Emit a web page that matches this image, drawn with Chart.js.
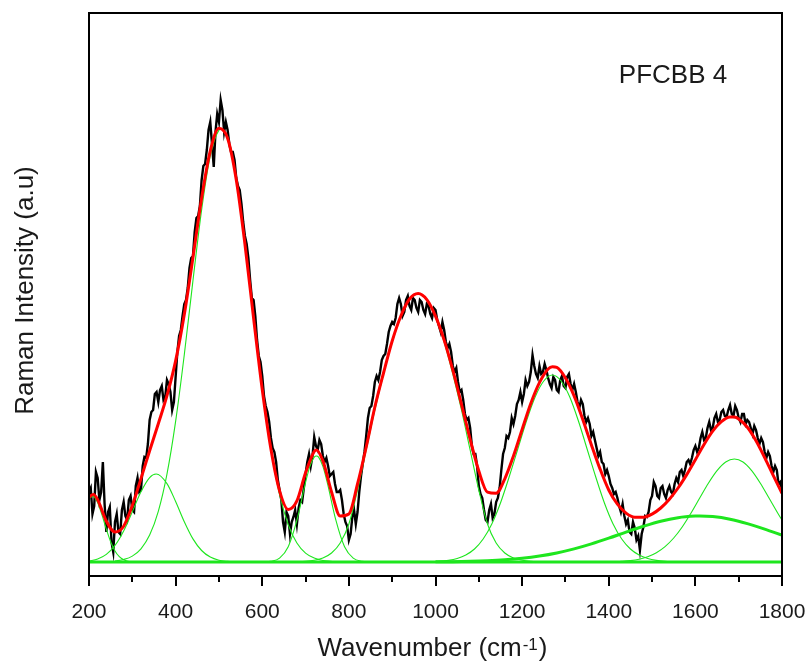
<!DOCTYPE html>
<html><head><meta charset="utf-8">
<script src="https://cdn.jsdelivr.net/npm/chart.js@4.4.0/dist/chart.umd.min.js"></script>
<style>html,body{margin:0;padding:0;background:#fff;}#wrap{width:809px;height:662px;}</style>
</head><body><div id="wrap"><canvas id="c" width="809" height="662"></canvas></div>
<script>
// ---- data (intensity in arbitrary units) ----
const majorTicks = [200,400,600,800,1000,1200,1400,1600,1800];
const minorTicks = [300,500,700,900,1100,1300,1500,1700];
const sampleTitle = "PFCBB 4";
const xTitleMain = "Wavenumber (cm";
const xTitleSup = "-1";
const xTitleEnd = ")";
const yTitle = "Raman Intensity (a.u)";

// measured spectrum (black), one value every 4 cm-1 from 200 to 1800
const measStart = 200, measStep = 4;
const measY = [
 70,74,48,56,90,84,62,70,100,58,30,50,55,20,10,40,48,30,28,52,
 60,46,42,62,66,52,50,76,84,70,72,96,105,104,118,142,150,152,168,170,
 160,172,176,162,165,182,178,170,152,160,185,210,226,232,246,258,262,274,294,304,
 306,330,344,346,356,382,396,398,412,432,440,418,395,430,448,440,462,452,430,440,
 432,418,410,410,402,384,376,372,358,340,326,318,304,282,264,262,246,222,206,200,
 186,166,156,150,140,124,114,110,100,82,72,62,40,30,50,46,28,40,45,52,
 38,54,62,60,74,88,100,108,96,106,125,116,112,122,118,106,100,104,96,86,
 88,90,78,70,70,72,62,48,40,36,22,28,45,52,38,50,70,86,98,110,
 126,144,154,156,166,180,186,182,190,202,206,208,218,230,236,240,238,244,258,264,
 258,246,250,262,266,256,252,264,262,254,250,262,260,252,248,258,256,248,244,254,
 252,242,236,230,240,232,220,214,218,210,196,190,194,180,170,172,162,148,142,144,
 134,116,108,108,96,76,68,64,52,42,40,52,58,44,48,60,64,74,92,108,
 114,126,124,130,144,138,146,158,162,170,160,168,182,176,180,190,207,196,188,184,
 196,188,190,198,192,184,178,174,185,182,172,170,182,186,176,174,185,188,178,172,
 178,170,160,154,162,158,146,140,144,138,126,130,122,114,106,110,100,98,88,92,
 86,78,74,68,70,64,56,50,58,46,38,42,30,28,40,34,22,26,12,28,
 35,46,45,50,62,66,80,76,66,64,74,76,68,64,72,76,70,68,78,84,
 80,90,92,86,92,100,102,98,104,112,116,110,114,124,130,122,124,134,140,132,
 134,144,148,140,142,150,152,146,145,152,157,148,146,156,152,144,140,148,148,138,
 142,140,134,128,136,132,124,118,124,120,110,104,110,106,96,90,96,92,78,80,
 72];

// cumulative fit (red)
const fitX = [200,210,220,240,260,280,300,320,340,360,380,400,420,440,460,480,500,520,540,560,580,600,620,640,660,680,700,720,725,740,760,780,800,820,840,860,880,900,920,940,960,980,1000,1020,1040,1060,1080,1100,1120,1140,1160,1180,1200,1220,1240,1260,1270,1280,1300,1320,1340,1360,1380,1400,1420,1440,1460,1480,1500,1520,1540,1560,1580,1600,1620,1640,1660,1680,1690,1700,1720,1740,1760,1780,1800];
const fitY = [65,67.4,62.3,40.8,30,35.8,56.5,83.4,111.3,138.3,166.3,201.1,247.5,304.5,363.7,411.1,433.7,423.8,382.3,318,243.9,172.5,113,71.2,52.6,61.1,89.2,110.5,112,101.1,70,46,48,78,115,155,189,221,246,263,268.5,262.4,245.9,221.9,191.8,157.7,122.7,91,69.8,68.7,83.2,106,132.5,158.5,179.3,193,195.2,194.6,184,166.1,142.5,117.1,92.9,72,57.8,48.9,44.8,44.8,47.9,54,62.8,74,87.4,102.3,117.5,130.8,140.3,145,144.9,143,134.7,121.2,104.4,86.3,68.7];

// fitted peaks (green)
const p1X = [200,210,220,230,240,250,260,270,280,290,300,320];
const p1Y = [64.0,65.6,59.3,47.1,32.9,20.3,11.0,5.3,2.2,0.8,0.3,0];
const p2X = [200,220,240,260,280,300,320,340,355,380,400,420,440,460,480,500,520,540];
const p2Y = [1.0,3.0,7.6,16.6,31.1,50.3,70.2,84.4,88,78.4,60.5,40.3,23.1,11.5,4.9,1.8,0.6,0];
const p3X = [260,280,300,320,340,360,380,400,420,440,460,480,500,505,510,520,540,560,580,600,620,640,660,680,700,720,740,760];
const p3Y = [0.9,2.5,5.9,13.2,26.9,50.7,87.9,140.6,207.2,281.4,352.2,406.2,431.9,433,431.9,423.2,382.1,318.0,243.9,172.4,112.3,67.4,37.3,19.0,8.9,3.9,1.5,0.6];
const p4X = [600,620,640,660,680,700,710,720,725,730,740,750,770,790,810,830,850];
const p4Y = [0.1,0.7,3.8,15.2,41.8,79.6,95.6,104.8,106,104.8,95.6,79.6,41.8,15.2,3.8,0.7,0.1];
const p5X = [640,660,680,700,720,740,760,780,800,820,840,860,880,900,920,940,960,980,1000,1020,1040,1060,1080,1100,1120,1140,1160,1180,1200,1220,1240,1260,1280];
const p5Y = [0,0.1,0.3,0.7,1.8,4,9,19,38,72,112,152,188,220,245,262,268,262,245,220,188,152,112,72,38,19,9,4,1.8,0.7,0.3,0.1,0];
const p6X = [990,1010,1030,1050,1070,1090,1110,1130,1150,1170,1190,1210,1230,1250,1270,1290,1310,1330,1350,1370,1390,1410,1430,1450,1470,1490,1510,1530,1550];
const p6Y = [0.3,0.7,1.6,3.5,7,13,23,38,59,85,113,141,165,181,187,181,165,141,113,85,59,38,23,13,7,3.5,1.6,0.7,0.3];
const p7X = [1410,1430,1450,1470,1490,1510,1530,1550,1570,1590,1610,1630,1650,1670,1690,1710,1730,1750,1770,1790,1800];
const p7Y = [0.3,0.7,1.4,2.8,5.3,9.3,15.4,24.0,35.3,49.0,64.0,78.8,91.4,100.0,103,100.0,91.4,78.8,64.0,49.0,41.9];
const broadX = [1000,1040,1080,1120,1160,1200,1240,1280,1320,1360,1400,1440,1480,1520,1560,1600,1610,1640,1680,1720,1760,1800];
const broadY = [0.18,0.36,0.69,1.28,2.24,3.74,5.96,9.05,13.1,18.1,23.8,29.9,35.7,40.8,44.3,45.9,46,45.4,42.8,38.4,32.9,26.8];
const baseX = [200,1800];
const baseY = [0,0];

// ---- build chart ----
const pts = (xs, ys) => xs.map((x, i) => ({x: x, y: ys[i]}));
const measPts = measY.map((y, i) => ({x: measStart + measStep * i, y: y}));
const FONT = '"Liberation Sans", Arial, sans-serif';
Chart.defaults.font.family = FONT;

const green = '#1ee61e';
const thinGreen = (xs, ys) => ({data: pts(xs, ys), borderColor: green, borderWidth: 1.1, pointRadius: 0, cubicInterpolationMode: 'monotone', order: 2});

const decor = {
  id: 'decor',
  afterDatasetsDraw(chart) {
    const {ctx, chartArea: a, scales: {x}} = chart;
    ctx.save();
    ctx.strokeStyle = '#000';
    ctx.lineWidth = 2;
    ctx.strokeRect(a.left, a.top, a.right - a.left, a.bottom - a.top);
    ctx.beginPath();
    majorTicks.forEach(v => { const px = Math.round(x.getPixelForValue(v)); ctx.moveTo(px, a.bottom); ctx.lineTo(px, a.bottom + 10); });
    minorTicks.forEach(v => { const px = Math.round(x.getPixelForValue(v)); ctx.moveTo(px, a.bottom); ctx.lineTo(px, a.bottom + 6); });
    ctx.stroke();
    ctx.restore();
  },
  afterDraw(chart) {
    const {ctx, chartArea: a} = chart;
    ctx.save();
    ctx.fillStyle = '#1a1a1a';
    ctx.font = '26px ' + FONT;
    ctx.textAlign = 'center';
    ctx.textBaseline = 'alphabetic';
    ctx.fillText(sampleTitle, 673, 83);
    ctx.save();
    ctx.translate(33, (a.top + a.bottom) / 2 - 4);
    ctx.rotate(-Math.PI / 2);
    ctx.fillText(yTitle, 0, 0);
    ctx.restore();
    ctx.textAlign = 'left';
    ctx.font = '26px ' + FONT;
    const w1 = ctx.measureText(xTitleMain).width;
    const w3 = ctx.measureText(xTitleEnd).width;
    ctx.font = '17px ' + FONT;
    const w2 = ctx.measureText(xTitleSup).width;
    const total = w1 + w2 + w3 + 2;
    const sx = (a.left + a.right) / 2 - total / 2 - 3;
    const by = 656;
    ctx.font = '26px ' + FONT;
    ctx.fillText(xTitleMain, sx, by);
    ctx.font = '17px ' + FONT;
    ctx.fillText(xTitleSup, sx + w1 + 1, by - 6);
    ctx.font = '26px ' + FONT;
    ctx.fillText(xTitleEnd, sx + w1 + w2 + 2, by);
    ctx.restore();
  }
};

new Chart(document.getElementById('c'), {
  type: 'line',
  data: {
    datasets: [
      {data: pts(fitX, fitY), borderColor: '#ff0000', borderWidth: 3, pointRadius: 0, cubicInterpolationMode: 'monotone', order: 0},
      {data: pts(baseX, baseY), borderColor: green, borderWidth: 3, pointRadius: 0, order: 1},
      {data: pts(broadX, broadY), borderColor: green, borderWidth: 3, pointRadius: 0, cubicInterpolationMode: 'monotone', order: 1},
      thinGreen(p1X, p1Y), thinGreen(p2X, p2Y), thinGreen(p3X, p3Y), thinGreen(p4X, p4Y),
      thinGreen(p5X, p5Y), thinGreen(p6X, p6Y), thinGreen(p7X, p7Y),
      {data: measPts, borderColor: '#000', borderWidth: 2.4, pointRadius: 0, tension: 0, order: 3}
    ]
  },
  options: {
    responsive: false,
    animation: false,
    events: [],
    layout: {padding: {left: 89, right: 27, top: 13, bottom: 0}},
    plugins: {legend: {display: false}, tooltip: {enabled: false}},
    scales: {
      x: {
        type: 'linear', min: 200, max: 1800,
        afterBuildTicks: s => { s.ticks = majorTicks.map(v => ({value: v})); },
        ticks: {font: {size: 21}, color: '#1a1a1a', padding: 16, maxRotation: 0, autoSkip: false, callback: v => String(v)},
        grid: {display: false},
        border: {display: false},
        afterFit: s => { s.height = 86; s.paddingLeft = 0; s.paddingRight = 0; }
      },
      y: {display: false, min: -14, max: 549}
    }
  },
  plugins: [decor]
});
</script>
</body></html>
